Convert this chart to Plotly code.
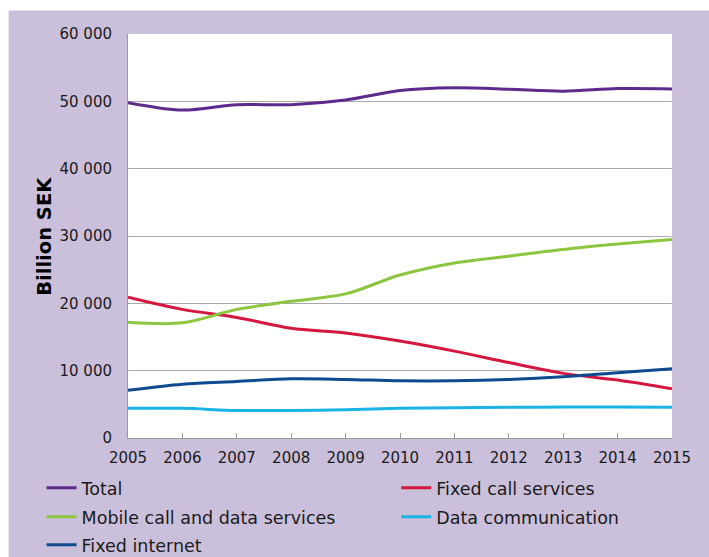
import plotly.graph_objects as go

years = [2005, 2006, 2007, 2008, 2009, 2010, 2011, 2012, 2013, 2014, 2015]
total = [49800, 48700, 49500, 49500, 50200, 51600, 52000, 51800, 51500, 51900, 51850]
fixed_call = [20900, 19100, 17900, 16300, 15600, 14400, 12900, 11200, 9600, 8600, 7300]
mobile = [17200, 17100, 19100, 20300, 21400, 24200, 26000, 27000, 28000, 28800, 29500]
data_comm = [4400, 4400, 4100, 4100, 4200, 4400, 4500, 4550, 4600, 4600, 4550]
fixed_internet = [7100, 8000, 8400, 8800, 8700, 8500, 8500, 8700, 9100, 9700, 10300]

y_ticks = [0, 10000, 20000, 30000, 40000, 50000, 60000]

series = [
    ("Total", total, "#5E2A8C"),
    ("Fixed call services", fixed_call, "#D5173F"),
    ("Mobile call and data services", mobile, "#8CC63F"),
    ("Data communication", data_comm, "#1AB3E6"),
    ("Fixed internet", fixed_internet, "#0D4A8F"),
]
# legend slot (column x, row y) in pixels for each series
legend_pos = [(41, 488), (396, 488), (41, 517), (396, 517), (41, 545)]

W, H = 709, 557
L, R, T, B = 127.5, 672, 33.5, 438
pw, ph = R - L, B - T


def px(x):
    return (x - L) / pw


def py(y):
    return (B - y) / ph


font = dict(family="DejaVu Sans", size=15, color="#1a1a1a")
leg_font = dict(family="DejaVu Sans", size=17.5, color="#1a1a1a")
lilac = "#CBC0DB"

fig = go.Figure()
legends = {}
for i, ((name, vals, color), (lx, ly)) in enumerate(zip(series, legend_pos)):
    lg = "legend" if i == 0 else f"legend{i + 1}"
    fig.add_trace(go.Scatter(
        x=years, y=vals, name=name, mode="lines",
        line=dict(color=color, width=3, shape="spline", smoothing=0.9),
        legend=lg,
    ))
    legends[lg] = dict(x=px(lx), y=py(ly), xanchor="left", yanchor="middle",
                       orientation="v", bgcolor="rgba(0,0,0,0)", borderwidth=0,
                       font=leg_font, itemclick=False, itemdoubleclick=False)

fig.update_layout(
    width=W, height=H,
    margin=dict(l=L, r=W - R, t=T, b=H - B, autoexpand=False),
    paper_bgcolor=lilac,
    plot_bgcolor="white",
    font=font,
    separators=", ",
    showlegend=True,
    xaxis=dict(
        range=[2005, 2015], tickmode="array", tickvals=years,
        ticktext=[str(y) for y in years],
        ticks="inside", ticklen=5, tickcolor="#9a9a9a", tickwidth=1,
        showline=True, linecolor="#9a9a9a", linewidth=1,
        showgrid=False, zeroline=False, ticklabelstandoff=6,
        tickfont=font,
    ),
    yaxis=dict(
        range=[0, 60000], tickmode="array", tickvals=y_ticks,
        tickformat=",d", ticks="", showline=True, linecolor="#9a9a9a",
        linewidth=1, showgrid=True, gridcolor="#aaaaaa", gridwidth=1,
        zeroline=False, ticklabelstandoff=12, tickfont=font,
    ),
    shapes=[
        dict(type="rect", xref="paper", yref="paper", x0=-0.5, x1=1.5,
             y0=py(10), y1=1.3, fillcolor="white", line=dict(width=0)),
        dict(type="rect", xref="paper", yref="paper", x0=-0.5, x1=px(8),
             y0=-0.5, y1=1.3, fillcolor="white", line=dict(width=0)),
    ],
    annotations=[
        dict(text="<b>Billion SEK</b>", xref="paper", yref="paper",
             x=px(44), y=py(236), textangle=-90, showarrow=False,
             xanchor="center", yanchor="middle",
             font=dict(family="DejaVu Sans", size=19.5, color="#000000")),
    ],
    **legends,
)

fig.write_html("out.html")
